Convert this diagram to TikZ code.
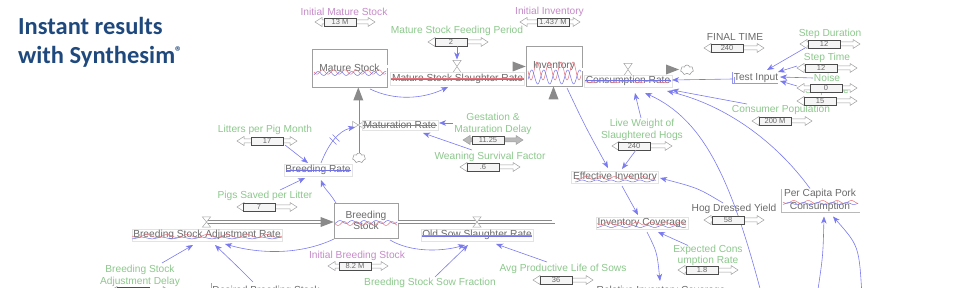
\documentclass[tikz,border=0pt]{standalone}
\usepackage{fontspec}
\setmainfont{Liberation Sans}
\newfontfamily\titlefont{Carlito}
\usetikzlibrary{arrows.meta,shapes.symbols}
\definecolor{grn}{HTML}{8CC78C}
\definecolor{pur}{HTML}{C58AC8}
\definecolor{txtg}{HTML}{6A6A6A}
\definecolor{infc}{HTML}{7A7AF0}
\definecolor{pipec}{HTML}{8A8A8A}
\definecolor{ttl}{HTML}{1F497D}
\definecolor{wred}{HTML}{E8737D}
\definecolor{wblue}{HTML}{7373E6}
\tikzset{
 lbl/.style={inner sep=0.5pt, font=\fontsize{10.2}{12}\selectfont, align=center},
 lg/.style={lbl,text=grn},
 lp/.style={lbl,text=pur},
 lk/.style={lbl,text=txtg},
 ratelbl/.style={lk, draw=gray!22, inner sep=1.5pt},
 stockbox/.style={draw=gray!75, line width=0.7pt, fill=white, inner sep=0pt},
 infl/.style={draw=infc, line width=0.6pt, -{Stealth[length=7pt,width=5.5pt,inset=2pt]}},
 pipe/.style={draw=pipec, line width=0.6pt, double=white, double distance=2.2pt},
 valvebox/.style={inner sep=0pt, minimum width=8pt, minimum height=12pt},
 valvest/.style={draw=gray!70, fill=white, line width=0.5pt},
 thumbst/.style={draw=gray!60!black, fill=gray!8, line width=0.5pt, minimum width=32pt, minimum height=8pt, inner sep=0pt, font=\fontsize{7.5}{7.5}\selectfont, text=txtg},
 slbar/.style={draw=gray!75, fill=white, line width=0.5pt},
 slfill/.style={draw=gray!75, fill=gray!55, line width=0.5pt},
 wr/.style={draw=wred, line width=0.5pt},
 wb/.style={draw=wblue, line width=0.5pt},
 cloudst/.style={cloud, cloud puffs=7, draw=gray!75, fill=white, line width=0.6pt, minimum width=13pt, minimum height=10pt, inner sep=0pt, aspect=1.3},
 titlest/.style={inner sep=0pt, anchor=base west, text=ttl, font=\titlefont\bfseries\fontsize{24.5}{29}\selectfont},
}
\newcommand\mkslider[6][slbar]{%
 \draw[#1] (#3,#4) -- ({#3+7},{#4-4.5}) -- ({#3+7},{#4-2}) -- ({#3+53},{#4-2}) -- ({#3+53},{#4-4.5}) -- ({#3+60},#4) -- ({#3+53},{#4+4.5}) -- ({#3+53},{#4+2}) -- ({#3+7},{#4+2}) -- ({#3+7},{#4+4.5}) -- cycle;
 \node[thumbst] (#2) at ({#3+#5+16},#4) {#6};
}
\begin{document}
\begin{tikzpicture}[x=1pt,y=-1pt]
\useasboundingbox (0,0) rectangle (960,288);
\clip (0,0) rectangle (960,288);
% title
\node[titlest] (t1) at (18,35) {Instant results};
\node[titlest] (t2) at (18,64) {with Synthesim\raisebox{7pt}{\fontsize{14}{14}\selectfont ®}};
% valves and clouds (positions)
\node[valvebox] (v1) at (457,66.5) {};
\node[valvebox] (v2) at (628,69.5) {};
\node[valvebox, minimum height=10pt] (v3) at (477,222) {};
\node[valvebox, minimum height=10pt] (v4) at (206.5,222) {};
\node[valvebox, minimum width=11pt, minimum height=7pt] (v5) at (358.3,125) {};
% stocks
\node[lk, stockbox, minimum width=75pt, minimum height=38pt] (ms) at (349.5,68) {Mature Stock};
\node[lk, stockbox, minimum width=56pt, minimum height=40pt] (inv) at (554,66) {Inventory};
\node[lk, stockbox, minimum width=64pt, minimum height=35pt, font=\fontsize{10.2}{11}\selectfont] (bs) at (366,220.5) {Breeding\\Stock};
\node[cloudst] (c1) at (687,70) {};
\node[cloudst] (c2) at (359,158) {};
% pipes
\draw[pipe] ([shift={(0,-1.5)}]ms.east) -- ([shift={(-12,0.5)}]inv.west);
\draw[pipe] ([shift={(0,3.5)}]inv.east) -- ([shift={(-20,-0.5)}]c1.center);
\draw[pipe] ([shift={(0,1.5)}]ms.west) -| (v4.center) -- ([shift={(-12,1.5)}]bs.west);
\draw[pipe] ([shift={(0,1.5)}]bs.east) -| ([shift={(-0.5,12)}]inv.south);
\draw[pipe] ([shift={(-0.7,-5)}]c2.center) -- ([shift={(8.8,12)}]ms.south);
\fill[pipec] ([shift={(0,0.5)}]inv.west) -- ([shift={(-13,-4.5)}]inv.west) -- ([shift={(-13,5.5)}]inv.west) -- cycle;
\fill[pipec] ([shift={(-8,-0.5)}]c1.center) -- ([shift={(-21,-5.5)}]c1.center) -- ([shift={(-21,4.5)}]c1.center) -- cycle;
\fill[pipec] ([shift={(0,1.5)}]bs.west) -- ([shift={(-13,-3.5)}]bs.west) -- ([shift={(-13,6.5)}]bs.west) -- cycle;
\fill[pipec] ([shift={(-0.5,0)}]inv.south) -- ([shift={(-5.5,13)}]inv.south) -- ([shift={(4.5,13)}]inv.south) -- cycle;
\fill[pipec] ([shift={(8.8,0)}]ms.south) -- ([shift={(3.8,13)}]ms.south) -- ([shift={(13.8,13)}]ms.south) -- cycle;
% valves drawn
\draw[valvest] (v1.north west) -- (v1.north east) -- (v1.south west) -- (v1.south east) -- cycle;
\draw[valvest] (v2.north west) -- (v2.north east) -- (v2.south west) -- (v2.south east) -- cycle;
\draw[valvest] (v3.north west) -- (v3.north east) -- (v3.south west) -- (v3.south east) -- cycle;
\draw[valvest] (v4.north west) -- (v4.north east) -- (v4.south west) -- (v4.south east) -- cycle;
\draw[valvest] (v5.north west) -- (v5.south west) -- (v5.north east) -- (v5.south east) -- cycle;
% rate and auxiliary labels
\node[ratelbl] (mssr) at (457.5,78.5) {Mature Stock Slaughter Rate};
\node[ratelbl] (cr) at (628,81) {Consumption Rate};
\node[ratelbl] (mr) at (400,125) {Maturation Rate};
\node[ratelbl] (br) at (318,170) {Breeding Rate};
\node[ratelbl] (bsar) at (207,235) {Breeding Stock Adjustment Rate};
\node[ratelbl] (ossr) at (477,235) {Old Sow Slaughter Rate};
\node[ratelbl] (ei) at (615,177) {Effective Inventory};
\node[ratelbl] (ic) at (642,223) {Inventory Coverage};
\node[lk] (ric) at (661,291) {Relative Inventory Coverage};
\node[lk] (dbs) at (266,291) {Desired Breeding Stock};
\node[lk] (ti) at (756,78) {Test Input};
\node[lk, font=\fontsize{10.2}{13}\selectfont] (pcpc) at (820,200.5) {Per Capita Pork\\Consumption};
\node[lk] (hdy) at (734,209) {Hog Dressed Yield};
\node[lk] (ft) at (735,37) {FINAL TIME};
\node[lp] (ims) at (344,12) {Initial Mature Stock};
\node[lp] (ii) at (549.5,12) {Initial Inventory};
\node[lg] (msfp) at (457,31) {Mature Stock Feeding Period};
\node[lg] (sd) at (830,34) {Step Duration};
\node[lg] (stt) at (827,58) {Step Time};
\node[lg] (noise) at (827,78) {Noise};
\node[lg] (ss) at (827,91) {Step Size};
\node[lg] (cp) at (781,110) {Consumer Population};
\node[lg] (lw) at (642,130) {Live Weight of\\Slaughtered Hogs};
\node[lg, font=\fontsize{10.2}{9}\selectfont] (ecr) at (708,255.5) {Expected Cons\\umption Rate};
\node[lg] (lpm) at (265,130) {Litters per Pig Month};
\node[lg] (psl) at (265,196) {Pigs Saved per Litter};
\node[lg] (gmd) at (493,124) {Gestation \&\\Maturation Delay};
\node[lg] (wsf) at (490,157) {Weaning Survival Factor};
\node[lp] (ibs) at (357,256) {Initial Breeding Stock};
\node[lg] (apls) at (563,269) {Avg Productive Life of Sows};
\node[lg] (bssf) at (430,283) {Breeding Stock Sow Fraction};
\node[lg] (bsad) at (140,276) {Breeding Stock\\Adjustment Delay};
% decorations
\draw[gray!55, line width=0.5pt] ([shift={(-39,-11.5)}]pcpc.center) -- ([shift={(-39,11.5)}]pcpc.center) -- ([shift={(40,11.5)}]pcpc.center);
\draw[gray!70, line width=0.5pt] ([shift={(-55,-8)}]dbs.center) -- ([shift={(-55,0)}]dbs.center);
\draw[wblue!75, line width=0.6pt] ([shift={(-24,-6)}]ti.center) -- ([shift={(-24,5)}]ti.center) -- ([shift={(22,5)}]ti.center);
\draw[wblue!75, line width=0.6pt] ([shift={(-22,-1)}]ti.center) -- ([shift={(-22,5)}]ti.center);
% synthesim overlays
\draw[wr] plot[domain=314:386, samples=80] (\x,{72+2.2*sin(32*(\x-314))});
\draw[wb] plot[domain=314:386, samples=80] (\x,{73.5+2*sin(32*(\x-314)+140)});
\draw[wr] (391,78.2) -- (524,78.2);
\draw[wb] (391,79.2) -- (524,79.2);
\draw[wr] plot[domain=528:581, samples=90] (\x,{71+9*sin(30*(\x-528))});
\draw[wb] plot[domain=528:581, samples=90] (\x,{77+7*sin(30*(\x-528)+160)});
\draw[wr] plot[domain=585:671, samples=60] (\x,{81.8+0.8*sin(15*(\x-585))});
\draw[wb] (585,80.6) -- (671,80.6);
\draw[wr] (363,125.6) -- (437,125.6);
\draw[wb] (363,124.8) -- (437,124.8);
\draw[wr] (286,170.6) -- (351,170.6);
\draw[wb] (286,169.8) -- (351,169.8);
\draw[wr] plot[domain=132:282, samples=100] (\x,{236+1.5*sin(18*(\x-132))});
\draw[wb] plot[domain=132:282, samples=100] (\x,{238+0.8*sin(18*(\x-132)+90)});
\draw[wr] (422,235.6) -- (532,235.6);
\draw[wb] (422,236.4) -- (532,236.4);
\draw[wr] plot[domain=335:397, samples=70] (\x,{223.5+2*sin(30*(\x-335))});
\draw[wb] plot[domain=335:397, samples=70] (\x,{222+1.5*sin(30*(\x-335)+120)});
\draw[wr] plot[domain=575:656, samples=70] (\x,{178+1.5*sin(25*(\x-575))});
\draw[wb] plot[domain=575:656, samples=70] (\x,{181+1*sin(25*(\x-575)+90)});
\draw[wr] plot[domain=597:686, samples=70] (\x,{223.5+1.5*sin(25*(\x-597))});
\draw[wb] plot[domain=597:686, samples=70] (\x,{226.5+1*sin(25*(\x-597)+90)});
\draw[wr] plot[domain=783:858, samples=70] (\x,{202+1.5*sin(25*(\x-783))});
\draw[wb] plot[domain=783:858, samples=70] (\x,{203.5+1*sin(25*(\x-783)+120)});
% off-picture ends
\coordinate (offA) at (762,296);
\coordinate (offB) at (817,296);
\coordinate (offC) at (862,296);
% influence arrows
\draw[infl] ([shift={(20.5,21)}]ms.center) .. controls +(25,12) and +(-25,12) .. ([shift={(-9.5,8.5)}]mssr.center);
\draw[infl] ([shift={(20,15)}]lpm.center) -- ([shift={(-10,-7)}]br.center);
\draw[infl] ([shift={(15,-6)}]psl.center) -- ([shift={(-13,8)}]br.center);
\draw[infl] ([shift={(-30,-17.5)}]bs.center) .. controls +(-6,-10) and +(3,8) .. ([shift={(3,10)}]br.center);
\draw[infl] ([shift={(3,-7)}]br.center) .. controls +(7,-18) and +(-17,4) .. ([shift={(-45,2)}]mr.center);
\draw[infc, line width=0.5pt] ([shift={(11.5,-32.5)}]br.center) -- ([shift={(18.5,-25.5)}]br.center);
\draw[infc, line width=0.5pt] ([shift={(14.5,-35.5)}]br.center) -- ([shift={(21.5,-28.5)}]br.center);
\draw[infl] ([shift={(-40,-1)}]gmd.center) -- ([shift={(39,-2)}]mr.center);
\draw[infl] ([shift={(-18,-7)}]wsf.center) -- ([shift={(23,8)}]mr.center);
\draw[infl] ([shift={(-32,18.5)}]bs.center) .. controls +(-34,16) and +(35,10) .. ([shift={(18,9)}]bsar.center);
\draw[infl] ([shift={(24,19.5)}]bs.center) .. controls +(20,12) and +(-25,7) .. ([shift={(-12,10)}]ossr.center);
\draw[infl] ([shift={(22,-13)}]bsad.center) -- ([shift={(-14,10)}]bsar.center);
\draw[infl] ([shift={(-13,-9)}]dbs.center) .. controls +(-15,-15) .. ([shift={(8,10)}]bsar.center);
\draw[infl] ([shift={(5,-6)}]bssf.center) -- ([shift={(-9,10)}]ossr.center);
\draw[infl] ([shift={(-16,-7)}]apls.center) -- ([shift={(19,9)}]ossr.center);
\draw[infl] ([shift={(13,22)}]inv.center) .. controls +(18,38) .. ([shift={(-7,-9)}]ei.center);
\draw[infl] ([shift={(-1,-12)}]lw.center) .. controls +(-3,-12) .. ([shift={(7,12)}]cr.center);
\draw[infl] ([shift={(-11,-6)}]hdy.center) .. controls +(-25,-15) .. ([shift={(45,1)}]ei.center);
\draw[infl] ([shift={(7,9)}]ei.center) -- ([shift={(-4,-8)}]ic.center);
\draw[infl] ([shift={(-20,-10)}]ecr.center) -- ([shift={(16,9)}]ic.center);
\draw[infl] ([shift={(5,9)}]ic.center) .. controls +(10,20) .. ([shift={(-1,-10)}]ric.center);
\draw[infl] (offA) .. controls +(-30,-114) and +(60,27) .. ([shift={(17,12)}]cr.center);
\draw[infl] ([shift={(-10,-12)}]pcpc.center) .. controls +(-35,-48) and +(58,14) .. ([shift={(39,10)}]cr.center);
\draw[infl] ([shift={(-34,-6)}]cp.center) -- ([shift={(44,9)}]cr.center);
\draw[infl] ([shift={(-23,1)}]ti.center) -- ([shift={(44,-1)}]cr.center);
\draw[infl] ([shift={(-30,8)}]stt.center) -- ([shift={(22,-6)}]ti.center);
\draw[infl] ([shift={(-14,0)}]noise.center) -- ([shift={(24,-1)}]ti.center);
\draw[infl] ([shift={(-30,-5)}]ss.center) -- ([shift={(24,3)}]ti.center);
\draw[infl] (offB) .. controls +(6,-40) .. ([shift={(4,16)}]pcpc.center);
\draw[infl] (offC) .. controls +(-3,-50) .. ([shift={(13,16)}]pcpc.center);
% sliders
\mkslider{imsS}{315}{22}{9}{13 M}
\mkslider{iiS}{520}{22}{17}{1.437 M}
\mkslider{msfpS}{428}{42}{7}{2}
\mkslider{ftS}{704}{48}{7}{240}
\mkslider{sdS}{800}{44}{8}{12}
\mkslider{sttS}{797}{68}{8}{12}
\mkslider{noiseS}{797}{88}{13}{0}
\mkslider{ssS}{797}{101}{7}{15}
\mkslider{cpS}{752}{121}{7}{200 M}
\mkslider{lwS}{612}{146}{6}{240}
\mkslider{hdyS}{704}{220}{8}{58}
\mkslider{ecrS}{678}{270}{8}{1.8}
\mkslider{lpmS}{237}{141}{14}{17}
\mkslider{pslS}{237}{207}{6}{7}
\mkslider[slfill]{gmdS}{463}{140}{9}{11.25}
\mkslider{wsfS}{460}{167}{7}{.6}
\mkslider{ibsS}{328}{266}{11}{8.2 M}
\mkslider{aplsS}{533}{280}{7}{36}
\mkslider{bsadS}{110}{291}{7}{}
\draw[infl] ([shift={(6,4)}]msfpS.center) -- ([shift={(0,-7)}]v1.center);
\draw[infl] ([shift={(-19,4)}]sdS.center) -- ([shift={(11,-8)}]ti.center);
\draw[infl] ([shift={(2,4)}]lwS.center) -- ([shift={(7,-8)}]ei.center);
\end{tikzpicture}
\end{document}
